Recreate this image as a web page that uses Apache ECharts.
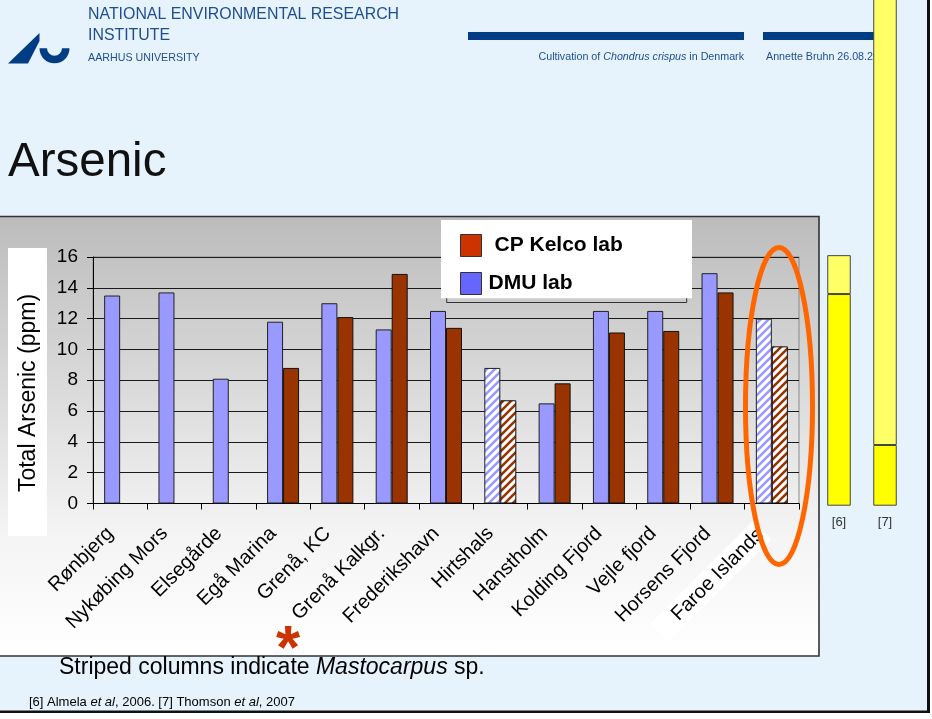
<!DOCTYPE html>
<html>
<head>
<meta charset="utf-8">
<title>Arsenic</title>
<script src="https://cdn.jsdelivr.net/npm/echarts@6/dist/echarts.min.js"></script>
<style>
  html, body { margin: 0; padding: 0; background: #ffffff; }
  #chart { width: 932px; height: 719px; }
</style>
</head>
<body>
<div id="chart"></div>
<script>
// Sampling sites along the x axis
const categories = ['Rønbjerg', 'Nykøbing Mors', 'Elsegårde', 'Egå Marina', 'Grenå, KC',
  'Grenå Kalkgr.', 'Frederikshavn', 'Hirtshals', 'Hanstholm', 'Kolding Fjord',
  'Vejle fjord', 'Horsens Fjord', 'Faroe Islands'];
// Total arsenic (ppm) measured by each lab
const dmuLab = [13.5, 13.7, 8.1, 11.8, 13.0, 11.3, 12.5, 8.8, 6.5, 12.5, 12.5, 14.95, 12.0];
const cpKelcoLab = [null, null, null, 8.8, 12.1, 14.9, 11.4, 6.7, 7.8, 11.1, 11.2, 13.7, 10.2];
// Sites where the sample was Mastocarpus (drawn striped)
const mastocarpusSites = ['Hirtshals', 'Faroe Islands'];
// Y axis ticks
const yMin = 0, yMax = 16, yStep = 2;
// Literature ranges [6] and [7]
const refLabels = ['[6]', '[7]'];
const refLow = [13.6, 3.9];
const refHigh = [16.1, 34];

const FONT = "'Liberation Sans', Arial, Helvetica, sans-serif";
const HEADER_BLUE = '#003d85';
const HEADER_TEXT = '#1f4e8e';

function stripes(color) {
  const c = document.createElement('canvas');
  c.width = 8; c.height = 8;
  const g = c.getContext('2d');
  g.fillStyle = '#ffffff';
  g.fillRect(0, 0, 8, 8);
  g.strokeStyle = color;
  g.lineWidth = 2.6;
  g.beginPath();
  g.moveTo(-2, 10); g.lineTo(10, -2);
  g.moveTo(-2, 2); g.lineTo(2, -2);
  g.moveTo(6, 10); g.lineTo(10, 6);
  g.stroke();
  return { image: c, repeat: 'repeat' };
}

function seriesData(values, stripeColor) {
  return categories.map((cat, i) => {
    if (values[i] == null) return null;
    if (mastocarpusSites.includes(cat)) {
      return { value: values[i], itemStyle: { color: stripes(stripeColor) } };
    }
    return values[i];
  });
}

const chart = echarts.init(document.getElementById('chart'), null, { renderer: 'canvas' });

const option = {
  animation: false,
  backgroundColor: '#ffffff',
  textStyle: { fontFamily: FONT },
  legend: {
    z: 6,
    orient: 'vertical',
    left: 455, top: 229,
    itemWidth: 21, itemHeight: 22, itemGap: 15,
    icon: 'rect',
    selectedMode: false,
    textStyle: { fontSize: 21, fontWeight: 'bold', color: '#000', fontFamily: FONT },
    data: [
      { name: 'CP Kelco lab', itemStyle: { color: '#cc3300', borderColor: '#333', borderWidth: 1 },
        textStyle: { padding: [0, 0, 0, 8] } },
      { name: 'DMU lab', itemStyle: { color: '#6666ff', borderColor: '#333', borderWidth: 1 },
        textStyle: { padding: [0, 0, 0, 2] } }
    ]
  },
  grid: [
    { left: 93, top: 257, width: 706, height: 246.5, show: true, borderColor: '#8a8a8a', borderWidth: 1, backgroundColor: 'transparent' },
    { left: 816, top: 256.7, width: 92, height: 249 }
  ],
  xAxis: [
    {
      gridIndex: 0, type: 'category', data: categories,
      axisLine: { lineStyle: { color: '#000', width: 1 } },
      axisTick: { show: true, length: 6, interval: 0, lineStyle: { color: '#000' } },
      axisLabel: {
        interval: 0, rotate: 45, fontSize: 20, color: '#000', margin: 17, fontFamily: FONT,
        padding: [0, 14, 0, 0],
        formatter: v => v === 'Faroe Islands' ? '{hl|' + v + '}' : v,
        rich: { hl: { backgroundColor: '#ffffff', padding: [3, 2, 3, 22], fontSize: 20, color: '#000', fontFamily: FONT } }
      }
    },
    {
      gridIndex: 1, type: 'category', data: refLabels,
      axisLine: { show: false }, axisTick: { show: false },
      axisLabel: { fontSize: 13, color: '#333', margin: 10, fontFamily: FONT }
    }
  ],
  yAxis: [
    {
      gridIndex: 0, type: 'value', min: yMin, max: yMax, interval: yStep,
      axisLine: { show: true, lineStyle: { color: '#000' } },
      axisTick: { show: true, length: 6, lineStyle: { color: '#000' } },
      axisLabel: { fontSize: 19, color: '#000', margin: 15, fontFamily: FONT },
      splitLine: { show: true, lineStyle: { color: '#1a1a1a', width: 1 } }
    },
    { gridIndex: 1, type: 'value', min: yMin, max: yMax, show: false, splitLine: { show: false } }
  ],
  series: [
    {
      name: 'DMU lab', type: 'bar', xAxisIndex: 0, yAxisIndex: 0,
      barWidth: 16, barGap: '0%',
      itemStyle: { color: '#9999ff', borderColor: '#222', borderWidth: 1 },
      data: seriesData(dmuLab, '#9999ff')
    },
    {
      name: 'CP Kelco lab', type: 'bar', xAxisIndex: 0, yAxisIndex: 0,
      barWidth: 16, barGap: '0%',
      itemStyle: { color: '#993300', borderColor: '#111', borderWidth: 1 },
      data: seriesData(cpKelcoLab, '#993300')
    },
    {
      name: 'ref-low', type: 'bar', xAxisIndex: 1, yAxisIndex: 1, stack: 'ref',
      barWidth: 23.5, clip: false,
      itemStyle: { color: '#ffff00', borderColor: '#444', borderWidth: 1 },
      data: refLow
    },
    {
      name: 'ref-range', type: 'bar', xAxisIndex: 1, yAxisIndex: 1, stack: 'ref',
      barWidth: 23.5, clip: false,
      itemStyle: { color: '#ffff66', borderColor: '#444', borderWidth: 1 },
      data: refHigh.map((h, i) => h - refLow[i])
    }
  ],
  graphic: [
    // slide background and frame
    { type: 'rect', z: -20, shape: { x: 0, y: 0, width: 927, height: 711 }, style: { fill: '#e6f3fd' } },
    { type: 'rect', z: -19, shape: { x: 927, y: 0, width: 3, height: 713 }, style: { fill: '#111' } },
    { type: 'rect', z: -19, shape: { x: 0, y: 710.5, width: 930, height: 2.5 }, style: { fill: '#111' } },
    // header: logo
    { type: 'polygon', z: 1, shape: { points: [[8, 63.5], [28, 63.5], [39.5, 41], [39.5, 33]] }, style: { fill: HEADER_BLUE } },
    { type: 'sector', z: 1, shape: { cx: 54.5, cy: 48.3, r: 15, r0: 7.5, startAngle: 0, endAngle: Math.PI }, style: { fill: HEADER_BLUE } },
    // header: institute name
    { type: 'text', z: 1, x: 88, y: 15, style: { text: 'NATIONAL ENVIRONMENTAL RESEARCH', fill: HEADER_TEXT, fontSize: 15.9, fontFamily: FONT, verticalAlign: 'middle' } },
    { type: 'text', z: 1, x: 88, y: 36, style: { text: 'INSTITUTE', fill: HEADER_TEXT, fontSize: 15.9, fontFamily: FONT, verticalAlign: 'middle' } },
    { type: 'text', z: 1, x: 88, y: 58.5, style: { text: 'AARHUS UNIVERSITY', fill: HEADER_TEXT, fontSize: 10.7, fontFamily: FONT, verticalAlign: 'middle' } },
    // header: rule bars and running text
    { type: 'rect', z: 1, shape: { x: 468, y: 32, width: 276, height: 8 }, style: { fill: HEADER_BLUE } },
    { type: 'rect', z: 1, shape: { x: 763, y: 32, width: 130, height: 8 }, style: { fill: HEADER_BLUE } },
    { type: 'text', z: 1, x: 744, y: 57.5, style: {
        text: 'Cultivation of {i|Chondrus crispus} in Denmark', fill: HEADER_TEXT, fontSize: 10.7, fontFamily: FONT,
        align: 'right', verticalAlign: 'middle',
        rich: { i: { fontStyle: 'italic', fill: HEADER_TEXT, fontSize: 10.7, fontFamily: FONT } } } },
    { type: 'text', z: 1, x: 766, y: 57.5, style: { text: 'Annette Bruhn 26.08.2008', fill: HEADER_TEXT, fontSize: 10.7, fontFamily: FONT, verticalAlign: 'middle' } },
    // slide title
    { type: 'text', z: 1, x: 8, y: 163, style: { text: 'Arsenic', fill: '#111', fontSize: 47.5, fontFamily: FONT, verticalAlign: 'middle' } },
    // chart box
    { type: 'rect', z: -10, shape: { x: -3, y: 216.5, width: 822, height: 439.5 }, style: {
        fill: { type: 'linear', x: 0, y: 0, x2: 0, y2: 1, colorStops: [
          { offset: 0, color: '#bcbcbc' }, { offset: 0.72, color: '#f4f4f4' }, { offset: 1, color: '#ffffff' } ] },
        stroke: '#333', lineWidth: 1.6 } },
    // y axis title
    { type: 'rect', z: -5, shape: { x: 8, y: 248, width: 39, height: 288 }, style: { fill: '#ffffff' } },
    { type: 'text', z: -4, x: 29, y: 393, rotation: Math.PI / 2, style: {
        text: 'Total Arsenic (ppm)', fill: '#000', fontSize: 23, fontFamily: FONT, align: 'center', verticalAlign: 'middle' } },
    // legend box
    { type: 'rect', z: 3, shape: { x: 446.7, y: 240, width: 240, height: 62.5 }, style: { fill: 'none', stroke: '#333', lineWidth: 1 } },
    { type: 'rect', z: 4, shape: { x: 441, y: 220, width: 251, height: 78.3 }, style: { fill: '#ffffff' } },
    // highlight ring around the Faroe Islands columns
    { type: 'ellipse', z: 50, shape: { cx: 779, cy: 406, rx: 33.5, ry: 158.5 }, style: { fill: 'none', stroke: '#ff6600', lineWidth: 5 } },
    // marker under Grenå
    { type: 'text', z: 5, x: 288, y: 651, style: { text: '*', fill: '#cc3300', fontSize: 62, fontWeight: 'bold', fontFamily: FONT, align: 'center', verticalAlign: 'middle' } },
    // notes
    { type: 'text', z: 1, x: 59, y: 668, style: {
        text: 'Striped columns indicate {i|Mastocarpus} sp.', fill: '#000', fontSize: 23, fontFamily: FONT, verticalAlign: 'middle',
        rich: { i: { fontStyle: 'italic', fill: '#000', fontSize: 23, fontFamily: FONT } } } },
    { type: 'text', z: 1, x: 29, y: 702, style: {
        text: '[6] Almela {i|et al}, 2006. [7] Thomson {i|et al}, 2007', fill: '#000', fontSize: 13, fontFamily: FONT, verticalAlign: 'middle',
        rich: { i: { fontStyle: 'italic', fill: '#000', fontSize: 13, fontFamily: FONT } } } }
  ]
};

chart.setOption(option);
</script>
</body>
</html>
